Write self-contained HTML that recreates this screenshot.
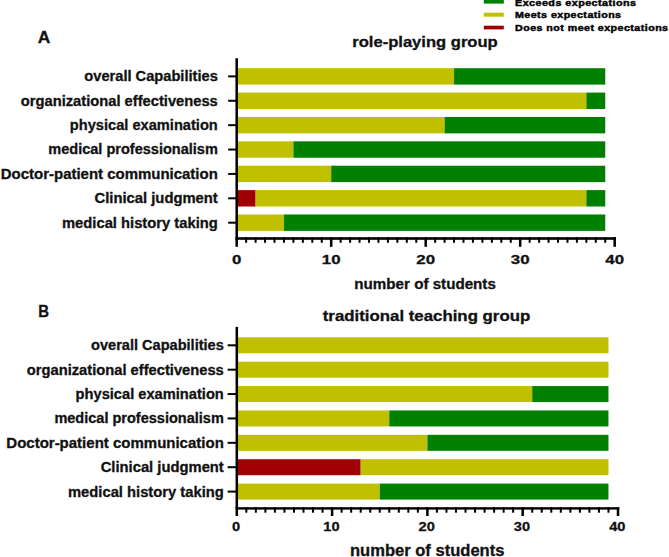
<!DOCTYPE html>
<html><head><meta charset="utf-8"><style>
html,body{margin:0;padding:0;background:#fff;width:669px;height:557px;overflow:hidden}
svg{display:block}
.lg text{fill:#000;stroke:#000;stroke-width:0.45px}
text{font-family:"Liberation Sans",sans-serif;font-weight:bold;fill:#111;stroke:#111;stroke-width:0.3px}
</style></head><body>
<svg width="669" height="557" viewBox="0 0 669 557">
<rect width="669" height="557" fill="#fff"/>

<rect x="483.8" y="-1" width="20" height="4.6" fill="#008000"/>
<rect x="483.8" y="12.7" width="20" height="4" fill="#c1c000"/>
<rect x="483.8" y="25.7" width="20" height="3.7" fill="#a00000"/>
<g class="lg" font-size="9.3" letter-spacing="0.4">
<text x="515" y="6.1" textLength="121.5" lengthAdjust="spacingAndGlyphs">Exceeds expectations</text>
<text x="515" y="18.4" textLength="106.5" lengthAdjust="spacingAndGlyphs">Meets expectations</text>
<text x="515" y="31.1" textLength="153.5" lengthAdjust="spacingAndGlyphs">Does not meet expectations</text>
</g>
<rect x="236.70" y="68.20" width="217.35" height="16.4" fill="#c1c000"/>
<rect x="454.05" y="68.20" width="151.20" height="16.4" fill="#008000"/>
<rect x="228.2" y="75.40" width="8.50" height="2" fill="#000"/>
<text x="217.8" y="81.30" text-anchor="end" font-size="14.5" textLength="133.5" lengthAdjust="spacingAndGlyphs">overall Capabilities</text>
<rect x="236.70" y="92.58" width="349.65" height="16.4" fill="#c1c000"/>
<rect x="586.35" y="92.58" width="18.90" height="16.4" fill="#008000"/>
<rect x="228.2" y="99.78" width="8.50" height="2" fill="#000"/>
<text x="217.8" y="105.68" text-anchor="end" font-size="14.5" textLength="197" lengthAdjust="spacingAndGlyphs">organizational effectiveness</text>
<rect x="236.70" y="116.96" width="207.90" height="16.4" fill="#c1c000"/>
<rect x="444.60" y="116.96" width="160.65" height="16.4" fill="#008000"/>
<rect x="228.2" y="124.16" width="8.50" height="2" fill="#000"/>
<text x="217.8" y="130.06" text-anchor="end" font-size="14.5" textLength="148" lengthAdjust="spacingAndGlyphs">physical examination</text>
<rect x="236.70" y="141.34" width="56.70" height="16.4" fill="#c1c000"/>
<rect x="293.40" y="141.34" width="311.85" height="16.4" fill="#008000"/>
<rect x="228.2" y="148.54" width="8.50" height="2" fill="#000"/>
<text x="217.8" y="154.44" text-anchor="end" font-size="14.5" textLength="169.5" lengthAdjust="spacingAndGlyphs">medical professionalism</text>
<rect x="236.70" y="165.72" width="94.50" height="16.4" fill="#c1c000"/>
<rect x="331.20" y="165.72" width="274.05" height="16.4" fill="#008000"/>
<rect x="228.2" y="172.92" width="8.50" height="2" fill="#000"/>
<text x="217.8" y="178.82" text-anchor="end" font-size="14.5" textLength="217" lengthAdjust="spacingAndGlyphs">Doctor-patient communication</text>
<rect x="236.70" y="190.10" width="18.90" height="16.4" fill="#a00000"/>
<rect x="255.60" y="190.10" width="330.75" height="16.4" fill="#c1c000"/>
<rect x="586.35" y="190.10" width="18.90" height="16.4" fill="#008000"/>
<rect x="228.2" y="197.30" width="8.50" height="2" fill="#000"/>
<text x="217.8" y="203.20" text-anchor="end" font-size="14.5" textLength="123.3" lengthAdjust="spacingAndGlyphs">Clinical judgment</text>
<rect x="236.70" y="214.48" width="47.25" height="16.4" fill="#c1c000"/>
<rect x="283.95" y="214.48" width="321.30" height="16.4" fill="#008000"/>
<rect x="228.2" y="221.68" width="8.50" height="2" fill="#000"/>
<text x="217.8" y="227.58" text-anchor="end" font-size="14.5" textLength="155.8" lengthAdjust="spacingAndGlyphs">medical history taking</text>
<rect x="235.45" y="58.2" width="2.5" height="188.60" fill="#000"/>
<rect x="235.45" y="237.20" width="380.50" height="2.6" fill="#000"/>
<rect x="245.15" y="237.20" width="2" height="5.60" fill="#000"/>
<rect x="254.60" y="237.20" width="2" height="5.60" fill="#000"/>
<rect x="264.05" y="237.20" width="2" height="5.60" fill="#000"/>
<rect x="273.50" y="237.20" width="2" height="5.60" fill="#000"/>
<rect x="282.95" y="237.20" width="2" height="5.60" fill="#000"/>
<rect x="292.40" y="237.20" width="2" height="5.60" fill="#000"/>
<rect x="301.85" y="237.20" width="2" height="5.60" fill="#000"/>
<rect x="311.30" y="237.20" width="2" height="5.60" fill="#000"/>
<rect x="320.75" y="237.20" width="2" height="5.60" fill="#000"/>
<rect x="329.95" y="237.20" width="2.5" height="9.60" fill="#000"/>
<rect x="339.65" y="237.20" width="2" height="5.60" fill="#000"/>
<rect x="349.10" y="237.20" width="2" height="5.60" fill="#000"/>
<rect x="358.55" y="237.20" width="2" height="5.60" fill="#000"/>
<rect x="368.00" y="237.20" width="2" height="5.60" fill="#000"/>
<rect x="377.45" y="237.20" width="2" height="5.60" fill="#000"/>
<rect x="386.90" y="237.20" width="2" height="5.60" fill="#000"/>
<rect x="396.35" y="237.20" width="2" height="5.60" fill="#000"/>
<rect x="405.80" y="237.20" width="2" height="5.60" fill="#000"/>
<rect x="415.25" y="237.20" width="2" height="5.60" fill="#000"/>
<rect x="424.45" y="237.20" width="2.5" height="9.60" fill="#000"/>
<rect x="434.15" y="237.20" width="2" height="5.60" fill="#000"/>
<rect x="443.60" y="237.20" width="2" height="5.60" fill="#000"/>
<rect x="453.05" y="237.20" width="2" height="5.60" fill="#000"/>
<rect x="462.50" y="237.20" width="2" height="5.60" fill="#000"/>
<rect x="471.95" y="237.20" width="2" height="5.60" fill="#000"/>
<rect x="481.40" y="237.20" width="2" height="5.60" fill="#000"/>
<rect x="490.85" y="237.20" width="2" height="5.60" fill="#000"/>
<rect x="500.30" y="237.20" width="2" height="5.60" fill="#000"/>
<rect x="509.75" y="237.20" width="2" height="5.60" fill="#000"/>
<rect x="518.95" y="237.20" width="2.5" height="9.60" fill="#000"/>
<rect x="528.65" y="237.20" width="2" height="5.60" fill="#000"/>
<rect x="538.10" y="237.20" width="2" height="5.60" fill="#000"/>
<rect x="547.55" y="237.20" width="2" height="5.60" fill="#000"/>
<rect x="557.00" y="237.20" width="2" height="5.60" fill="#000"/>
<rect x="566.45" y="237.20" width="2" height="5.60" fill="#000"/>
<rect x="575.90" y="237.20" width="2" height="5.60" fill="#000"/>
<rect x="585.35" y="237.20" width="2" height="5.60" fill="#000"/>
<rect x="594.80" y="237.20" width="2" height="5.60" fill="#000"/>
<rect x="604.25" y="237.20" width="2" height="5.60" fill="#000"/>
<rect x="613.45" y="237.20" width="2.5" height="9.60" fill="#000"/>
<text transform="translate(236.70,264.2) scale(1.25,1)" text-anchor="middle" font-size="13.5">0</text>
<text transform="translate(331.20,264.2) scale(1.25,1)" text-anchor="middle" font-size="13.5">10</text>
<text transform="translate(425.70,264.2) scale(1.25,1)" text-anchor="middle" font-size="13.5">20</text>
<text transform="translate(520.20,264.2) scale(1.25,1)" text-anchor="middle" font-size="13.5">30</text>
<text transform="translate(614.70,264.2) scale(1.25,1)" text-anchor="middle" font-size="13.5">40</text>
<text x="425.1" y="288.9" text-anchor="middle" font-size="15" textLength="141.5" lengthAdjust="spacingAndGlyphs">number of students</text>
<text x="425" y="47.1" text-anchor="middle" font-size="14.8" textLength="145.5" lengthAdjust="spacingAndGlyphs">role-playing group</text>
<text transform="translate(37.8,43.3) scale(1,1)" font-size="17.4">A</text>
<rect x="236.80" y="337.30" width="371.67" height="16.0" fill="#c1c000"/>
<rect x="227.6" y="344.30" width="9.20" height="2" fill="#000"/>
<text x="223.8" y="350.30" text-anchor="end" font-size="14.5" textLength="132.7" lengthAdjust="spacingAndGlyphs">overall Capabilities</text>
<rect x="236.80" y="361.68" width="371.67" height="16.0" fill="#c1c000"/>
<rect x="227.6" y="368.68" width="9.20" height="2" fill="#000"/>
<text x="223.8" y="374.68" text-anchor="end" font-size="14.5" textLength="197" lengthAdjust="spacingAndGlyphs">organizational effectiveness</text>
<rect x="236.80" y="386.06" width="295.43" height="16.0" fill="#c1c000"/>
<rect x="532.23" y="386.06" width="76.24" height="16.0" fill="#008000"/>
<rect x="227.6" y="393.06" width="9.20" height="2" fill="#000"/>
<text x="223.8" y="399.06" text-anchor="end" font-size="14.5" textLength="148.2" lengthAdjust="spacingAndGlyphs">physical examination</text>
<rect x="236.80" y="410.44" width="152.48" height="16.0" fill="#c1c000"/>
<rect x="389.28" y="410.44" width="219.19" height="16.0" fill="#008000"/>
<rect x="227.6" y="417.44" width="9.20" height="2" fill="#000"/>
<text x="223.8" y="423.44" text-anchor="end" font-size="14.5" textLength="169.4" lengthAdjust="spacingAndGlyphs">medical professionalism</text>
<rect x="236.80" y="434.82" width="190.60" height="16.0" fill="#c1c000"/>
<rect x="427.40" y="434.82" width="181.07" height="16.0" fill="#008000"/>
<rect x="227.6" y="441.82" width="9.20" height="2" fill="#000"/>
<text x="223.8" y="447.82" text-anchor="end" font-size="14.5" textLength="217.5" lengthAdjust="spacingAndGlyphs">Doctor-patient communication</text>
<rect x="236.80" y="459.20" width="123.89" height="16.0" fill="#a00000"/>
<rect x="360.69" y="459.20" width="247.78" height="16.0" fill="#c1c000"/>
<rect x="227.6" y="466.20" width="9.20" height="2" fill="#000"/>
<text x="223.8" y="472.20" text-anchor="end" font-size="14.5" textLength="123.1" lengthAdjust="spacingAndGlyphs">Clinical judgment</text>
<rect x="236.80" y="483.58" width="142.95" height="16.0" fill="#c1c000"/>
<rect x="379.75" y="483.58" width="228.72" height="16.0" fill="#008000"/>
<rect x="227.6" y="490.58" width="9.20" height="2" fill="#000"/>
<text x="223.8" y="496.58" text-anchor="end" font-size="14.5" textLength="155.8" lengthAdjust="spacingAndGlyphs">medical history taking</text>
<rect x="235.55" y="326.9" width="2.5" height="189.10" fill="#000"/>
<rect x="235.55" y="507.20" width="383.70" height="2.4" fill="#000"/>
<rect x="245.33" y="507.20" width="2" height="5.50" fill="#000"/>
<rect x="254.86" y="507.20" width="2" height="5.50" fill="#000"/>
<rect x="264.39" y="507.20" width="2" height="5.50" fill="#000"/>
<rect x="273.92" y="507.20" width="2" height="5.50" fill="#000"/>
<rect x="283.45" y="507.20" width="2" height="5.50" fill="#000"/>
<rect x="292.98" y="507.20" width="2" height="5.50" fill="#000"/>
<rect x="302.51" y="507.20" width="2" height="5.50" fill="#000"/>
<rect x="312.04" y="507.20" width="2" height="5.50" fill="#000"/>
<rect x="321.57" y="507.20" width="2" height="5.50" fill="#000"/>
<rect x="330.85" y="507.20" width="2.5" height="8.80" fill="#000"/>
<rect x="340.63" y="507.20" width="2" height="5.50" fill="#000"/>
<rect x="350.16" y="507.20" width="2" height="5.50" fill="#000"/>
<rect x="359.69" y="507.20" width="2" height="5.50" fill="#000"/>
<rect x="369.22" y="507.20" width="2" height="5.50" fill="#000"/>
<rect x="378.75" y="507.20" width="2" height="5.50" fill="#000"/>
<rect x="388.28" y="507.20" width="2" height="5.50" fill="#000"/>
<rect x="397.81" y="507.20" width="2" height="5.50" fill="#000"/>
<rect x="407.34" y="507.20" width="2" height="5.50" fill="#000"/>
<rect x="416.87" y="507.20" width="2" height="5.50" fill="#000"/>
<rect x="426.15" y="507.20" width="2.5" height="8.80" fill="#000"/>
<rect x="435.93" y="507.20" width="2" height="5.50" fill="#000"/>
<rect x="445.46" y="507.20" width="2" height="5.50" fill="#000"/>
<rect x="454.99" y="507.20" width="2" height="5.50" fill="#000"/>
<rect x="464.52" y="507.20" width="2" height="5.50" fill="#000"/>
<rect x="474.05" y="507.20" width="2" height="5.50" fill="#000"/>
<rect x="483.58" y="507.20" width="2" height="5.50" fill="#000"/>
<rect x="493.11" y="507.20" width="2" height="5.50" fill="#000"/>
<rect x="502.64" y="507.20" width="2" height="5.50" fill="#000"/>
<rect x="512.17" y="507.20" width="2" height="5.50" fill="#000"/>
<rect x="521.45" y="507.20" width="2.5" height="8.80" fill="#000"/>
<rect x="531.23" y="507.20" width="2" height="5.50" fill="#000"/>
<rect x="540.76" y="507.20" width="2" height="5.50" fill="#000"/>
<rect x="550.29" y="507.20" width="2" height="5.50" fill="#000"/>
<rect x="559.82" y="507.20" width="2" height="5.50" fill="#000"/>
<rect x="569.35" y="507.20" width="2" height="5.50" fill="#000"/>
<rect x="578.88" y="507.20" width="2" height="5.50" fill="#000"/>
<rect x="588.41" y="507.20" width="2" height="5.50" fill="#000"/>
<rect x="597.94" y="507.20" width="2" height="5.50" fill="#000"/>
<rect x="607.47" y="507.20" width="2" height="5.50" fill="#000"/>
<rect x="616.75" y="507.20" width="2.5" height="8.80" fill="#000"/>
<text transform="translate(236.10,530.6) scale(1.1,1)" text-anchor="middle" font-size="13.3">0</text>
<text transform="translate(331.40,530.6) scale(1.1,1)" text-anchor="middle" font-size="13.3">10</text>
<text transform="translate(426.70,530.6) scale(1.1,1)" text-anchor="middle" font-size="13.3">20</text>
<text transform="translate(522.00,530.6) scale(1.1,1)" text-anchor="middle" font-size="13.3">30</text>
<text transform="translate(617.30,530.6) scale(1.1,1)" text-anchor="middle" font-size="13.3">40</text>
<text x="427.2" y="556" text-anchor="middle" font-size="16.5" textLength="154.5" lengthAdjust="spacingAndGlyphs">number of students</text>
<text x="426.5" y="320.8" text-anchor="middle" font-size="14.8" textLength="207.5" lengthAdjust="spacingAndGlyphs">traditional teaching group</text>
<text transform="translate(38.2,317.4) scale(0.86,1)" font-size="17.4">B</text>
</svg>
</body></html>
